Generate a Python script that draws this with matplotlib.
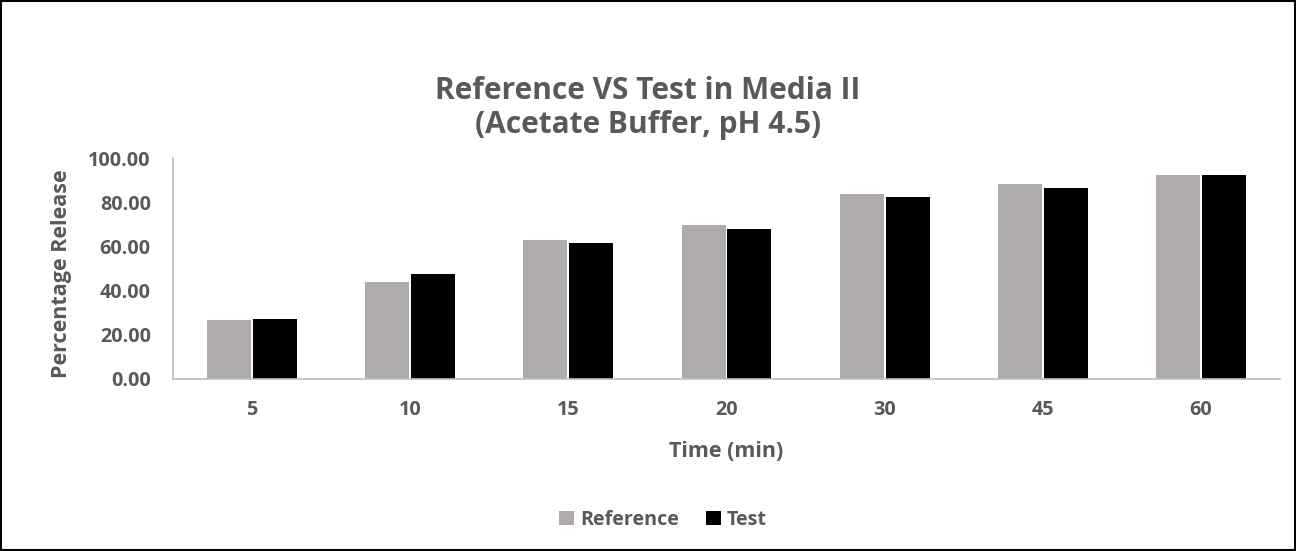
import matplotlib.pyplot as plt
import numpy as np

# Chart data
times = ["5", "10", "15", "20", "30", "45", "60"]
reference = [26.7, 43.8, 62.9, 69.8, 83.6, 88.2, 92.3]
test = [27.0, 47.7, 61.7, 67.9, 82.5, 86.6, 92.3]
y_ticks = [0, 20, 40, 60, 80, 100]

TEXT = "#595959"
GREY = "#AFABAB"

plt.rcParams["font.family"] = ["Open Sans", "DejaVu Sans"]

fig = plt.figure(figsize=(12.96, 5.51), dpi=100)
ax = fig.add_axes([0.1335, 0.3122, 0.8542, 0.401])

x = np.arange(len(times))
w = 0.278
ax.bar(x - w / 2 - 0.006, reference, w, color=GREY, label="Reference")
ax.bar(x + w / 2 + 0.006, test, w, color="black", label="Test")

ax.set_xlim(-0.5, len(times) - 0.5)
ax.set_ylim(0, 100)
ax.set_yticks(y_ticks)
ax.set_yticklabels([f"{v:.2f}" for v in y_ticks])
ax.set_xticks(x)
ax.set_xticklabels(times)
ax.tick_params(length=0, labelsize=14.2, colors=TEXT)
for lbl in ax.get_xticklabels() + ax.get_yticklabels():
    lbl.set_fontweight("bold")
ax.tick_params(axis="x", pad=15)
ax.tick_params(axis="y", pad=16)

for s in ["top", "right"]:
    ax.spines[s].set_visible(False)
for s in ["left", "bottom"]:
    ax.spines[s].set_color("#BFBFBF")
    ax.spines[s].set_linewidth(1.2)

ax.set_xlabel("Time (min)", fontsize=15.5, fontweight="bold", color=TEXT, va="center")
ax.xaxis.set_label_coords(0.5, -0.326)
ax.set_ylabel("Percentage Release", fontsize=15.5, fontweight="bold", color=TEXT, va="center")
ax.yaxis.set_label_coords(-0.1003, 0.475)

fig.text(0.5, 0.804, "Reference VS Test in Media II\n(Acetate Buffer, pH 4.5)",
         ha="center", va="center", fontsize=21.5, fontweight="bold", color=TEXT,
         linespacing=1.17)

leg = fig.legend(loc="center", bbox_to_anchor=(0.5116, 0.056), ncol=2, frameon=False,
                 handlelength=0.75, handleheight=0.75, handletextpad=0.3, columnspacing=1.4,
                 prop={"size": 14.2, "weight": "bold"})
for t in leg.get_texts():
    t.set_color(TEXT)

fig.patches.append(plt.Rectangle((0.001, 0.001), 0.998, 0.997, transform=fig.transFigure,
                                 fill=False, edgecolor="black", linewidth=1.5))

fig.savefig("out.png", dpi=100)
